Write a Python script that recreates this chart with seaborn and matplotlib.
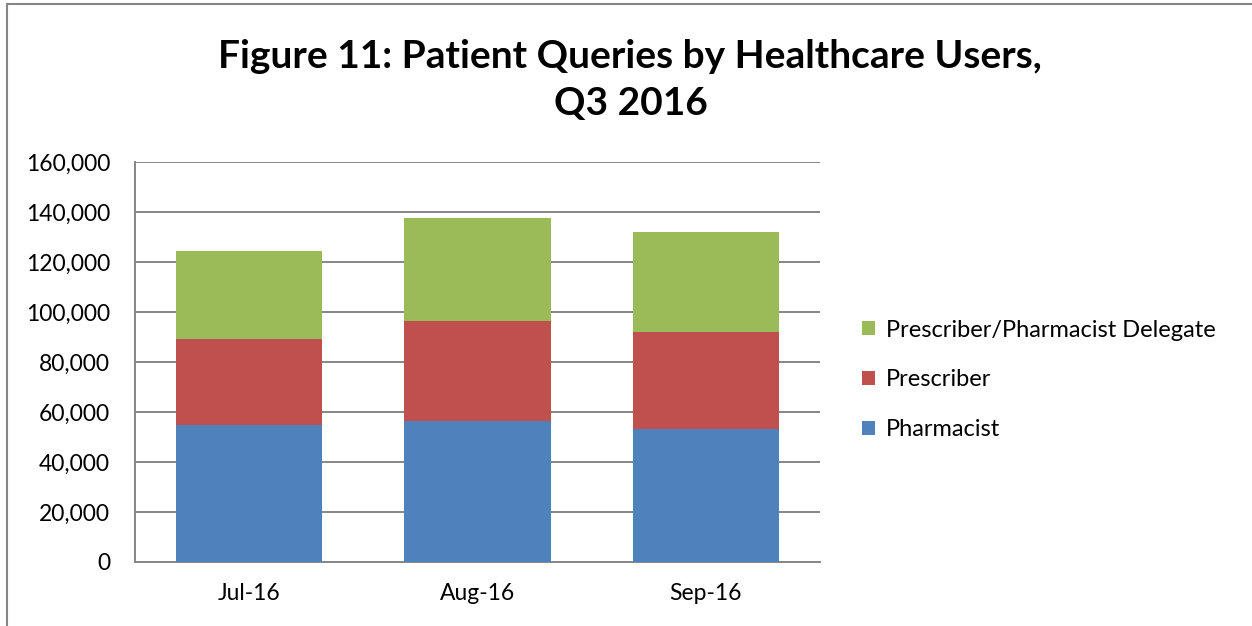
import numpy as np
import pandas as pd
import matplotlib
matplotlib.use("Agg")
import matplotlib.pyplot as plt
from matplotlib.ticker import FuncFormatter
from matplotlib.lines import Line2D
import seaborn as sns

# data
months = ["Jul-16", "Aug-16", "Sep-16"]
pharmacist = [54900, 56500, 53200]
prescriber = [34300, 39800, 38900]
delegate = [35200, 41400, 39800]

series_names = ["Pharmacist", "Prescriber", "Prescriber/Pharmacist Delegate"]
colors = ["#4F81BD", "#C0504D", "#9BBB59"]

df = pd.DataFrame({"month": months,
                   "Pharmacist": pharmacist,
                   "Prescriber": prescriber,
                   "Prescriber/Pharmacist Delegate": delegate})
# cumulative tops for stacking
cum = df[series_names].cumsum(axis=1)

sns.set_style("white")
plt.rcParams['font.family'] = ['Lato', 'DejaVu Sans']
plt.rcParams['text.color'] = 'black'

fig = plt.figure(figsize=(12.52, 6.26), dpi=100)
ax = fig.add_axes([135/1252, 64/626, 685/1252, 400/626])

# draw from the tallest stack down so the lower segments sit on top
for name, col in reversed(list(zip(series_names, colors))):
    sns.barplot(x=df["month"], y=cum[name], color=col, width=0.64,
                label=name, ax=ax, saturation=1, zorder=3,
                linewidth=0, edgecolor="none")

ax.set_ylim(0, 160000)
ax.set_xlim(-0.5, 2.5)
ax.set_yticks(np.arange(0, 160001, 20000))
ax.yaxis.set_major_formatter(FuncFormatter(lambda v, p: f"{v:,.0f}"))
ax.grid(axis="y", color="#868686", linewidth=1.4, zorder=0)
ax.set_axisbelow(True)
ax.set_xlabel("")
ax.set_ylabel("")
for s in ["top", "right"]:
    ax.spines[s].set_visible(False)
for s in ["left", "bottom"]:
    ax.spines[s].set_color("#868686")
    ax.spines[s].set_linewidth(1.4)
ax.tick_params(axis="y", length=0, pad=18, labelsize=16.5, labelcolor="black")
ax.tick_params(axis="x", length=0, pad=15, labelsize=16.5, labelcolor="black")

handles, labels = ax.get_legend_handles_labels()
ax.legend(handles, labels, loc="center left",
          bbox_to_anchor=(862/1252, 1 - 380/626), bbox_transform=fig.transFigure,
          frameon=False, fontsize=17, handlelength=0.55, handleheight=0.55,
          handletextpad=0.45, labelspacing=1.22, borderpad=0, borderaxespad=0,
          labelcolor="black")

fig.text(630/1252, 1 - 57/626, "Figure 11: Patient Queries by Healthcare Users,",
         ha="center", va="center", fontsize=28, fontweight="bold", color="black")
fig.text(631/1252, 1 - 104/626, "Q3 2016",
         ha="center", va="center", fontsize=28, fontweight="bold", color="black")

# chart border (left and top edges visible in the crop)
fig.add_artist(Line2D([7/1252, 7/1252], [0, 1 - 4/626], transform=fig.transFigure,
                      color="#868686", linewidth=1.5))
fig.add_artist(Line2D([7/1252, 1], [1 - 4/626, 1 - 4/626], transform=fig.transFigure,
                      color="#868686", linewidth=1.5))

fig.savefig("out.png", dpi=100)
